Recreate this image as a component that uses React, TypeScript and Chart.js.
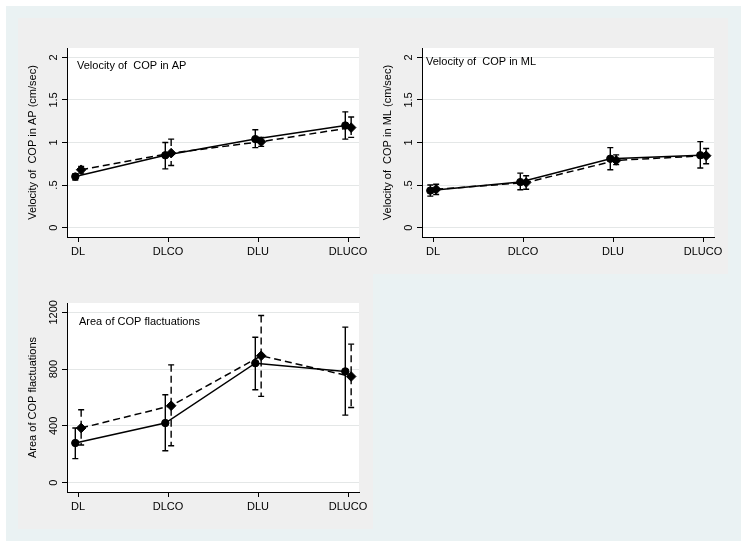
import React, { useEffect, useRef } from "react";
import { Chart, registerables } from "chart.js";

Chart.register(...registerables);

const categories = ["DL", "DLCO", "DLU", "DLUCO"];

// Panel 1: Velocity of COP in AP
const apSolidMean = [0.6, 0.85, 1.04, 1.2];
const apSolidLow = [0.56, 0.69, 0.94, 1.04];
const apSolidHigh = [0.63, 1.0, 1.15, 1.36];
const apDashMean = [0.68, 0.875, 1.01, 1.175];
const apDashLow = [0.64, 0.73, 0.955, 1.06];
const apDashHigh = [0.72, 1.04, 1.06, 1.3];

// Panel 2: Velocity of COP in ML
const mlSolidMean = [0.435, 0.535, 0.81, 0.85];
const mlSolidLow = [0.37, 0.445, 0.68, 0.7];
const mlSolidHigh = [0.5, 0.64, 0.94, 1.01];
const mlDashMean = [0.45, 0.53, 0.79, 0.845];
const mlDashLow = [0.39, 0.45, 0.74, 0.75];
const mlDashHigh = [0.51, 0.61, 0.855, 0.93];

// Panel 3: Area of COP fluctuations
const areaSolidMean = [279, 420, 842, 784];
const areaSolidLow = [169, 225, 655, 476];
const areaSolidHigh = [385, 619, 1025, 1096];
const areaDashMean = [385, 542, 894, 748];
const areaDashLow = [265, 260, 608, 530];
const areaDashHigh = [514, 830, 1178, 976];

const velTicks = [0, 0.5, 1, 1.5, 2];
const velTickLabels = ["0", ".5", "1", "1.5", "2"];
const areaTicks = [0, 400, 800, 1200];
const areaTickLabels = ["0", "400", "800", "1200"];

const FONT = '"Liberation Sans", Arial, sans-serif';
const TEXT = "#000000";
const GRID = "#e4e7e7";

type PanelSpec = {
  left: number;
  top: number;
  yMin: number;
  yMax: number;
  yTicks: number[];
  yTickLabels: string[];
  yTitle: string;
  inset: string;
  insetDx: number;
  insetDy: number;
  sMean: number[];
  sLow: number[];
  sHigh: number[];
  dMean: number[];
  dLow: number[];
  dHigh: number[];
};

const panels: PanelSpec[] = [
  {
    left: 18, top: 18, yMin: -0.11, yMax: 2.11,
    yTicks: velTicks, yTickLabels: velTickLabels,
    yTitle: "Velocity of  COP in AP (cm/sec)",
    inset: "Velocity of  COP in AP", insetDx: 10, insetDy: 18,
    sMean: apSolidMean, sLow: apSolidLow, sHigh: apSolidHigh,
    dMean: apDashMean, dLow: apDashLow, dHigh: apDashHigh,
  },
  {
    left: 373, top: 18, yMin: -0.11, yMax: 2.11,
    yTicks: velTicks, yTickLabels: velTickLabels,
    yTitle: "Velocity of  COP in ML (cm/sec)",
    inset: "Velocity of  COP in ML", insetDx: 4, insetDy: 14,
    sMean: mlSolidMean, sLow: mlSolidLow, sHigh: mlSolidHigh,
    dMean: mlDashMean, dLow: mlDashLow, dHigh: mlDashHigh,
  },
  {
    left: 18, top: 273, yMin: -66, yMax: 1266,
    yTicks: areaTicks, yTickLabels: areaTickLabels,
    yTitle: "Area of COP flactuations",
    inset: "Area of COP flactuations", insetDx: 12, insetDy: 19,
    sMean: areaSolidMean, sLow: areaSolidLow, sHigh: areaSolidHigh,
    dMean: areaDashMean, dLow: areaDashLow, dHigh: areaDashHigh,
  },
];

const W = 355;
const H = 256;
const OFF_S = -0.03;
const OFF_D = 0.035;
const DASH = [7, 4];

function PanelChart({ spec }: { spec: PanelSpec }) {
  const ref = useRef<HTMLCanvasElement | null>(null);

  useEffect(() => {
    if (!ref.current) return;

    const panelPlugin = {
      id: "stataPanel",
      beforeDraw(chart: any) {
        const { ctx, chartArea } = chart;
        ctx.save();
        ctx.fillStyle = "#ffffff";
        ctx.fillRect(chartArea.left, chartArea.top, chartArea.right - chartArea.left, chartArea.bottom - chartArea.top);
        ctx.restore();
      },
      beforeDatasetsDraw(chart: any) {
        const { ctx } = chart;
        const xs = chart.scales.x;
        const ys = chart.scales.y;
        const drawBars = (low: number[], high: number[], off: number, dash: number[]) => {
          ctx.save();
          ctx.strokeStyle = "#000";
          ctx.lineWidth = 1.4;
          for (let i = 0; i < low.length; i++) {
            const x = xs.getPixelForValue(i + 1 + off);
            const y1 = ys.getPixelForValue(low[i]);
            const y2 = ys.getPixelForValue(high[i]);
            ctx.setLineDash(dash);
            ctx.beginPath();
            ctx.moveTo(x, y2);
            ctx.lineTo(x, y1);
            ctx.stroke();
            ctx.setLineDash([]);
            ctx.beginPath();
            ctx.moveTo(x - 3, y1);
            ctx.lineTo(x + 3, y1);
            ctx.moveTo(x - 3, y2);
            ctx.lineTo(x + 3, y2);
            ctx.stroke();
          }
          ctx.restore();
        };
        drawBars(spec.sLow, spec.sHigh, OFF_S, []);
        drawBars(spec.dLow, spec.dHigh, OFF_D, DASH);
      },
      afterDraw(chart: any) {
        const { ctx, chartArea } = chart;
        const ys = chart.scales.y;
        ctx.save();
        ctx.fillStyle = TEXT;
        ctx.font = `11px ${FONT}`;
        ctx.textAlign = "center";
        ctx.textBaseline = "middle";
        spec.yTicks.forEach((v, i) => {
          const y = ys.getPixelForValue(v);
          ctx.save();
          ctx.translate(chartArea.left - 13, y);
          ctx.rotate(-Math.PI / 2);
          ctx.fillText(spec.yTickLabels[i], 0, 0);
          ctx.restore();
        });
        ctx.textAlign = "left";
        ctx.fillText(spec.inset, chartArea.left + spec.insetDx, chartArea.top + spec.insetDy);
        ctx.restore();
      },
    };

    const chart = new Chart(ref.current, {
      type: "line",
      data: {
        datasets: [
          {
            data: spec.sMean.map((v, i) => ({ x: i + 1 + OFF_S, y: v })),
            borderColor: "#000",
            backgroundColor: "#000",
            borderWidth: 1.5,
            pointStyle: "circle",
            pointRadius: 3.7,
            pointBorderWidth: 1,
            pointBackgroundColor: "#000",
            pointBorderColor: "#000",
            tension: 0,
            fill: false,
          },
          {
            data: spec.dMean.map((v, i) => ({ x: i + 1 + OFF_D, y: v })),
            borderColor: "#000",
            backgroundColor: "#000",
            borderWidth: 1.5,
            borderDash: DASH,
            pointStyle: "rectRot",
            pointRadius: 4.8,
            pointBorderWidth: 1,
            pointBackgroundColor: "#000",
            pointBorderColor: "#000",
            tension: 0,
            fill: false,
          },
        ],
      },
      options: {
        animation: false,
        responsive: false,
        devicePixelRatio: 1,
        layout: { padding: { top: 30, right: 14, left: 0, bottom: 0 } },
        plugins: {
          legend: { display: false },
          tooltip: { enabled: false },
        },
        scales: {
          x: {
            type: "linear",
            min: 1 - 11 / 90,
            max: 4 + 11 / 90,
            afterBuildTicks: (s: any) => {
              s.ticks = categories.map((_, i) => ({ value: i + 1 }));
            },
            afterFit: (s: any) => {
              s.height = 37;
            },
            border: { display: true, color: "#000", width: 1 },
            grid: { display: true, drawOnChartArea: false, drawTicks: true, tickLength: 5, tickColor: "#000", tickWidth: 1 },
            ticks: {
              callback: (_v: any, i: number) => categories[i],
              color: TEXT,
              font: { family: FONT, size: 11 },
              padding: 3,
              maxRotation: 0,
              minRotation: 0,
              autoSkip: false,
            },
          },
          y: {
            type: "linear",
            min: spec.yMin,
            max: spec.yMax,
            afterBuildTicks: (s: any) => {
              s.ticks = spec.yTicks.map((v) => ({ value: v }));
            },
            afterFit: (s: any) => {
              s.width = 49;
            },
            border: { display: true, color: "#000", width: 1 },
            grid: { display: true, drawOnChartArea: true, drawTicks: true, tickLength: 5, color: GRID, lineWidth: 1, tickColor: "#000", tickWidth: 1 },
            ticks: { display: false },
            title: {
              display: true,
              text: spec.yTitle,
              color: TEXT,
              font: { family: FONT, size: 11 },
              padding: { top: 8.7, bottom: 0 },
            },
          },
        },
      },
      plugins: [panelPlugin],
    } as any);

    return () => chart.destroy();
  }, [spec]);

  return (
    <div
      style={{
        position: "absolute",
        left: spec.left,
        top: spec.top,
        width: W,
        height: H,
        background: "#efefef",
      }}
    >
      <canvas ref={ref} width={W} height={H} style={{ display: "block", width: W, height: H }} />
    </div>
  );
}

export default function App() {
  useEffect(() => {
    document.body.style.margin = "0";
  }, []);
  return (
    <div style={{ position: "relative", width: 746, height: 547, background: "#ffffff", overflow: "hidden" }}>
      <div style={{ position: "absolute", left: 6, top: 6, width: 735, height: 535, background: "#eaf2f3" }} />
      {panels.map((p, i) => (
        <PanelChart key={i} spec={p} />
      ))}
    </div>
  );
}
